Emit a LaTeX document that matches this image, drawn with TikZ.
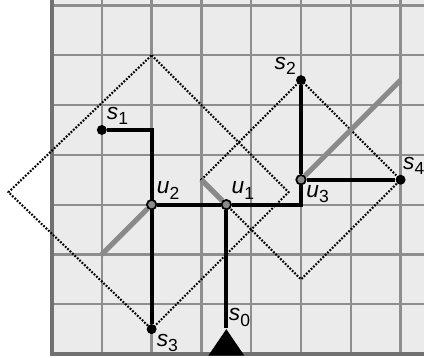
\documentclass[tikz,border=0pt]{standalone}
\usepackage{fontspec}
\setmainfont{Liberation Sans}
\usepackage{tikz}
\usetikzlibrary{backgrounds}
\definecolor{gridfill}{HTML}{EBEBEB}
\definecolor{gridline}{HTML}{8E8E8E}
\definecolor{steinergray}{HTML}{8A8A8A}
\tikzset{
  gridrule/.style={gridline, line width=1.3pt},
  diamondline/.style={black, line width=1.2pt, dash pattern=on 1pt off 0.9pt},
  greyedge/.style={steinergray, line width=3pt},
  treeedge/.style={black, line width=2.4pt},
  terminal/.style={circle, fill=black, inner sep=0pt, minimum size=0.2cm},
  steiner/.style={circle, draw=black, fill=steinergray, line width=1pt, inner sep=0pt, minimum size=0.19cm},
  labelnode/.style={inner sep=0.6pt, label distance=0pt, font=\fontsize{13}{14}\selectfont\itshape}
}
\newcommand{\vlab}[2]{#1\raisebox{-0.45ex}{\upshape\fontsize{10}{11}\selectfont #2}}

\begin{document}
\begin{tikzpicture}[x=0.5cm,y=0.5cm]
  \useasboundingbox (-2.09,-0.12) rectangle (14.94,14.22);
  \clip (-2.09,-0.12) rectangle (14.94,14.22);
  % points of the tree
  \node[terminal, label={[labelnode]above right:\vlab{s}{1}}] (s1) at (2,9) {};
  \node[terminal, label={[labelnode]above left:\vlab{s}{2}}] (s2) at (10,11) {};
  \node[terminal, label={[labelnode]below right:\vlab{s}{3}}] (s3) at (4,1) {};
  \node[terminal, label={[labelnode, xshift=-1.5pt]above right:\vlab{s}{4}}] (s4) at (14,7) {};
  \node[inner sep=0pt, label={[labelnode]above right:\vlab{s}{0}}] (s0) at (7,1) {};
  \node[steiner, label={[labelnode]above right:\vlab{u}{1}}] (u1) at (7,6) {};
  \node[steiner, label={[labelnode]above right:\vlab{u}{2}}] (u2) at (4,6) {};
  \node[steiner, label={[labelnode]below right:\vlab{u}{3}}] (u3) at (10,7) {};
  \coordinate (d1t) at (4,12);
  \coordinate (d1r) at (9.5,6.5);
  \coordinate (d1l) at (-1.75,6.5);
  \coordinate (d2b) at (10,3);
  \coordinate (d2l) at (6,7);
  \coordinate (g1) at (2,4);
  \coordinate (g3) at (14,11);
  \begin{scope}[on background layer]
    \fill[gridfill] (0,0) rectangle (15.5,14.5);
    \draw[gridrule] (0,0) grid (15.5,14.5);
    \draw[gridline!80!black, line width=2pt] (0,14.5) -- (0,0) -- (15.5,0);
    % dotted squares
    \draw[diamondline] (d1t) -- (d1r) -- (s3.center) -- (d1l) -- cycle;
    \draw[diamondline] (s2.center) -- (s4.center) -- (d2b) -- (d2l) -- cycle;
    % grey segments
    \draw[greyedge] (g1) -- (u2);
    \draw[greyedge] (d2l) -- (u1);
    \draw[greyedge] (u3) -- (g3);
    % tree edges
    \draw[treeedge] (s1) -| (s3);
    \draw[treeedge] (u2) -- (u1);
    \draw[treeedge] (u1) -| (u3);
    \draw[treeedge] (u3) -- (s2);
    \draw[treeedge] (u3) -- (s4);
    \draw[treeedge] (u1) -- (s0);
  \end{scope}
  \fill (s0.center) -- ++(0.72,-1.06) -- ++(-1.44,0) -- cycle;
\end{tikzpicture}
\end{document}
